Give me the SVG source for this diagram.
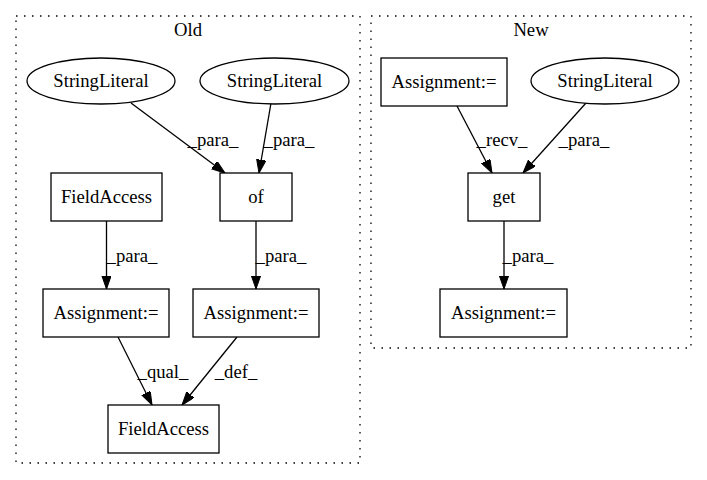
<svg xmlns="http://www.w3.org/2000/svg" width="707" height="480" viewBox="0 0 707 480">
<style>
text{font-family:"Liberation Serif","Times New Roman",serif;font-size:18.67px;fill:#000;text-anchor:middle}
.cl{fill:none;stroke:#000;stroke-width:1.3;stroke-dasharray:1.5,6.5}
.n{fill:#fff;stroke:#000;stroke-width:1.3}
.e{fill:none;stroke:#000;stroke-width:1.3;marker-end:url(#ah)}
</style>
<defs>
<marker id="ah" markerUnits="userSpaceOnUse" markerWidth="14" markerHeight="10" refX="13.3" refY="4.67" orient="auto">
<path d="M0,0 L13.3,4.67 L0,9.33 z" fill="#000" stroke="#000" stroke-width="1"/>
</marker>
</defs>
<rect width="707" height="480" fill="#fff"/>
<g id="cluster_old">
<rect class="cl" x="16" y="16" width="344" height="447"/>
<text x="188" y="36">Old</text>
</g>
<g id="cluster_new">
<rect class="cl" x="371" y="16" width="320" height="332"/>
<text x="531" y="36">New</text>
</g>
<g id="edges">
<path class="e" d="M131,103 L225,173"/>
<text x="213" y="146">_para_</text>
<path class="e" d="M271,103 L259,173"/>
<text x="289" y="146">_para_</text>
<path class="e" d="M106.5,221 L106.5,289"/>
<text x="132" y="262">_para_</text>
<path class="e" d="M256,221 L256,289"/>
<text x="281" y="262">_para_</text>
<path class="e" d="M118,337 L152,405"/>
<text x="163" y="378">_qual_</text>
<path class="e" d="M237,337 L182,405"/>
<text x="236" y="378">_def_</text>
<path class="e" d="M457,106 L492,173"/>
<text x="502" y="146">_recv_</text>
<path class="e" d="M586,103 L523,173"/>
<text x="584" y="146">_para_</text>
<path class="e" d="M504,221 L504,289"/>
<text x="528" y="262">_para_</text>
</g>
<g id="old_sl1"><ellipse class="n" cx="101" cy="81" rx="74" ry="23"/><text x="101" y="87">StringLiteral</text></g>
<g id="old_sl2"><ellipse class="n" cx="274.5" cy="81" rx="74.5" ry="23"/><text x="274.5" y="87">StringLiteral</text></g>
<g id="old_fa1"><rect class="n" x="51" y="173" width="111" height="48"/><text x="106.5" y="203">FieldAccess</text></g>
<g id="old_of"><rect class="n" x="220" y="173" width="72" height="48"/><text x="256" y="203">of</text></g>
<g id="old_as1"><rect class="n" x="43" y="289" width="126" height="48"/><text x="106" y="319">Assignment:=</text></g>
<g id="old_as2"><rect class="n" x="193" y="289" width="126" height="48"/><text x="256" y="319">Assignment:=</text></g>
<g id="old_fa2"><rect class="n" x="108" y="405" width="111" height="48"/><text x="163.5" y="435">FieldAccess</text></g>
<g id="new_as1"><rect class="n" x="381" y="58" width="126" height="48"/><text x="444" y="88">Assignment:=</text></g>
<g id="new_sl"><ellipse class="n" cx="605" cy="81" rx="74" ry="23"/><text x="605" y="87">StringLiteral</text></g>
<g id="new_get"><rect class="n" x="468" y="173" width="72" height="48"/><text x="504" y="203">get</text></g>
<g id="new_as2"><rect class="n" x="440" y="289" width="127" height="48"/><text x="503.5" y="319">Assignment:=</text></g>
</svg>
